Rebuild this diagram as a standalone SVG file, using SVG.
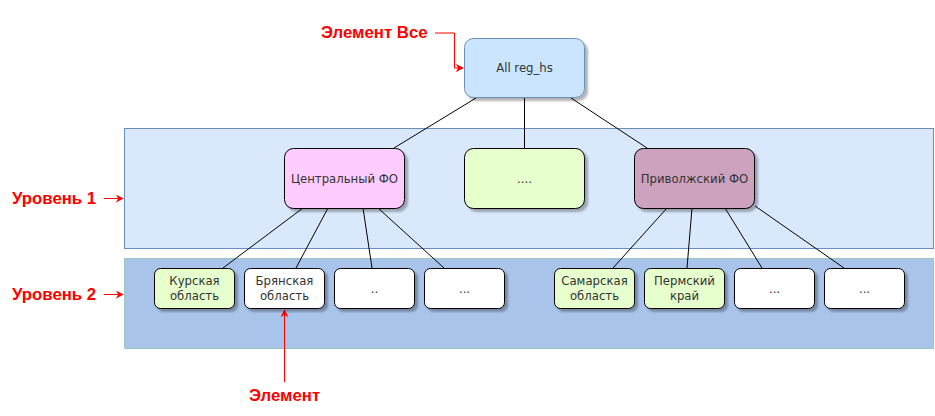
<svg xmlns="http://www.w3.org/2000/svg" width="935" height="416" viewBox="0 0 935 416">
<defs>
<filter id="sh" x="-10%" y="-10%" width="130%" height="140%">
<feGaussianBlur in="SourceAlpha" stdDeviation="1"/>
<feOffset dx="3" dy="3" result="o"/>
<feComponentTransfer><feFuncA type="linear" slope="0.3"/></feComponentTransfer>
<feMerge><feMergeNode/><feMergeNode in="SourceGraphic"/></feMerge>
</filter>
<marker id="ar" viewBox="0 0 10 10" refX="9" refY="5" markerWidth="8" markerHeight="8" markerUnits="userSpaceOnUse" orient="auto">
<path d="M0,0 L10,5 L0,10 L3,5 Z" fill="#ff0000"/>
</marker>
</defs>
<style>
.n{stroke:#000;stroke-width:1;filter:url(#sh)}
.t{font-family:"DejaVu Sans",sans-serif;font-size:11.7px;fill:#333;text-anchor:middle}
.r{font-family:"Liberation Sans",Arial,sans-serif;font-size:16.8px;font-weight:bold;fill:#ff0000}
.e{stroke:#000;stroke-width:1;fill:none}
.a{stroke:#ff0000;stroke-width:1;fill:none;marker-end:url(#ar)}
</style>
<rect width="935" height="416" fill="#fff"/>
<g id="level1">
<rect x="124.5" y="128.5" width="809" height="120" fill="#dae8fc" stroke="#6c8ebf"/>
</g>
<g id="level2">
<rect x="124.5" y="258.5" width="809" height="90" fill="#a9c4eb" stroke="#9ac7bf"/>
</g>
<g id="connectors">
<path class="e" d="M476,98 L394,148"/>
<path class="e" d="M524.5,98 L524.5,148"/>
<path class="e" d="M571,98 L647,148"/>
<path class="e" d="M303,208 L223,268"/>
<path class="e" d="M328,208 L296,268"/>
<path class="e" d="M363,208 L372,268"/>
<path class="e" d="M378,208 L444,268"/>
<path class="e" d="M667,208 L613,268"/>
<path class="e" d="M692,208 L687,268"/>
<path class="e" d="M725,208 L762,268"/>
<path class="e" d="M755,206 L844,268"/>
<path class="a" d="M435,33 H454.5 V68 H463"/>
<path class="a" d="M104,198.5 H123"/>
<path class="a" d="M104,294.5 H123"/>
<path class="a" d="M284.5,382 V310"/>
</g>
<g id="all">
<rect class="n" x="464.5" y="38.5" width="120" height="59" rx="9" fill="#cce5ff" style="stroke:#6c8ebf"/>
<text class="t" x="524.5" y="72">All reg_hs</text>
</g>
<g id="central">
<rect class="n" x="284.5" y="148.5" width="120" height="60" rx="9" fill="#ffccff"/>
<text class="t" x="344.5" y="183">Центральный ФО</text>
</g>
<g id="mid">
<rect class="n" x="464.5" y="148.5" width="120" height="60" rx="9" fill="#e6ffcc"/>
<text class="t" x="524.5" y="183">....</text>
</g>
<g id="privolzh">
<rect class="n" x="634.5" y="148.5" width="120" height="60" rx="9" fill="#cda2be"/>
<text class="t" x="694.5" y="183">Приволжский ФО</text>
</g>
<g id="kursk">
<rect class="n" x="154.5" y="268.5" width="80" height="40" rx="6" fill="#e6ffcc"/>
<text class="t" x="194.5" y="285">Курская</text>
<text class="t" x="194.5" y="300">область</text>
</g>
<g id="bryansk">
<rect class="n" x="244.5" y="268.5" width="80" height="40" rx="6" fill="#fff"/>
<text class="t" x="284.5" y="285">Брянская</text>
<text class="t" x="284.5" y="300">область</text>
</g>
<g id="dots1">
<rect class="n" x="334.5" y="268.5" width="80" height="40" rx="6" fill="#fff"/>
<text class="t" x="374.5" y="293">..</text>
</g>
<g id="dots2">
<rect class="n" x="424.5" y="268.5" width="80" height="40" rx="6" fill="#fff"/>
<text class="t" x="464.5" y="293">...</text>
</g>
<g id="samara">
<rect class="n" x="554.5" y="268.5" width="80" height="40" rx="6" fill="#e6ffcc"/>
<text class="t" x="594.5" y="285">Самарская</text>
<text class="t" x="594.5" y="300">область</text>
</g>
<g id="perm">
<rect class="n" x="644.5" y="268.5" width="80" height="40" rx="6" fill="#e6ffcc"/>
<text class="t" x="684.5" y="285">Пермский</text>
<text class="t" x="684.5" y="300">край</text>
</g>
<g id="dots3">
<rect class="n" x="734.5" y="268.5" width="80" height="40" rx="6" fill="#fff"/>
<text class="t" x="774.5" y="293">...</text>
</g>
<g id="dots4">
<rect class="n" x="824.5" y="268.5" width="80" height="40" rx="6" fill="#fff"/>
<text class="t" x="864.5" y="293">...</text>
</g>
<g id="labels">
<text class="r" x="321" y="38">Элемент Все</text>
<text class="r" x="12" y="204">Уровень 1</text>
<text class="r" x="12" y="300">Уровень 2</text>
<text class="r" x="249" y="401">Элемент</text>
</g>
</svg>
